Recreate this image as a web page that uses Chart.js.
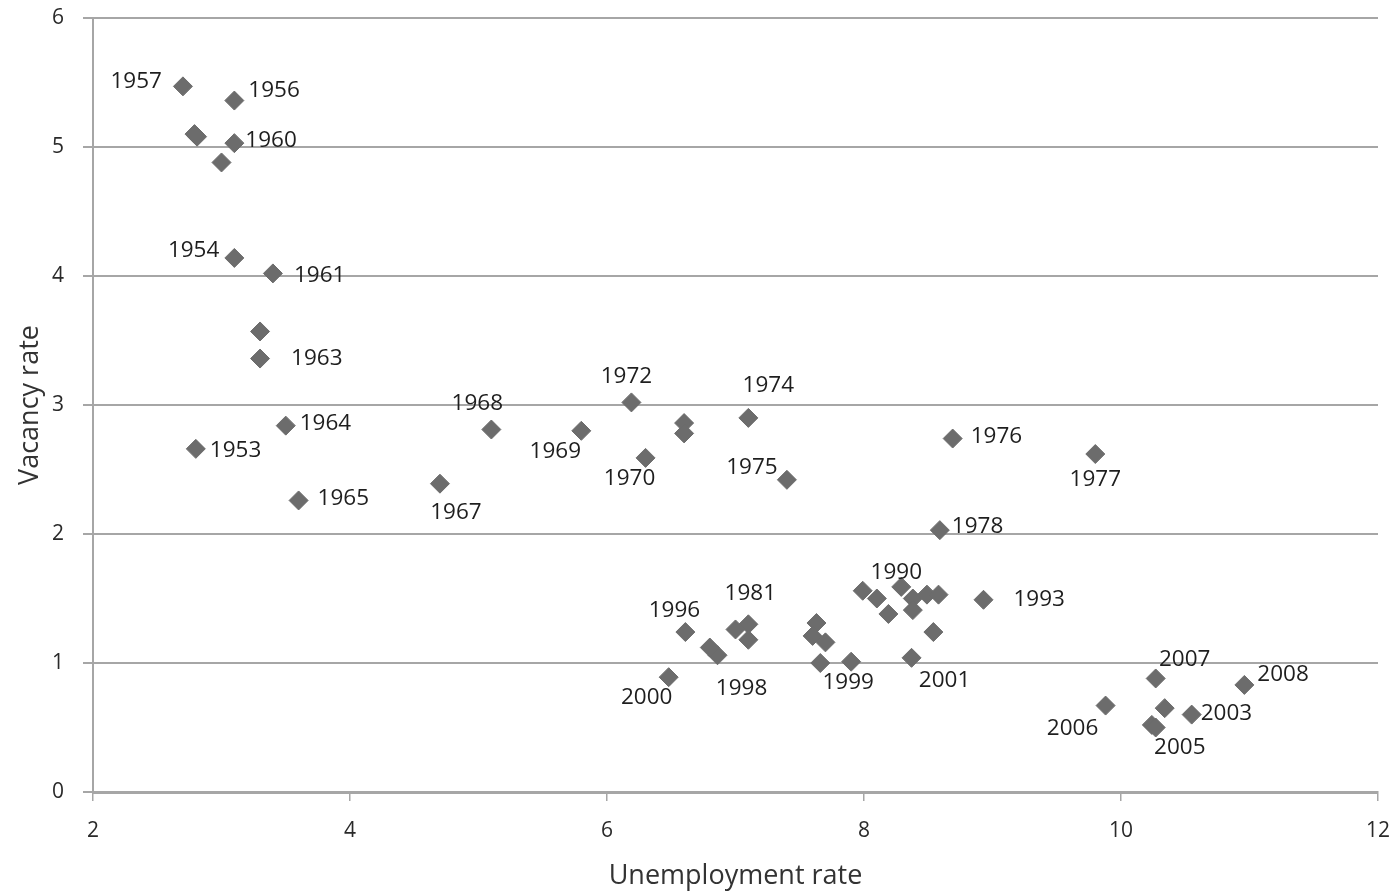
<!DOCTYPE html>
<html lang="en">
<head>
    <meta charset="UTF-8">
    <title>Vacancy vs unemployment</title>
    <script src="https://cdn.jsdelivr.net/npm/chart.js"></script>
    <style>
        html, body { margin: 0; padding: 0; background: #fff; }
        #wrap { width: 1395px; height: 895px; position: relative; }
    </style>
</head>
<body>
    <div id="wrap"><canvas id="scatter"></canvas></div>

    <script>
        // unemployment rate (x), vacancy rate (y), year label ('' = no label)
        const unemployment = [2.80, 3.10, 2.81, 3.10, 2.70, 2.79, 3.00, 3.10, 3.40, 3.30, 3.30, 3.50, 3.60,
            4.70, 5.10, 5.80, 6.30, 6.60, 6.19, 6.60, 7.10, 7.40, 8.69, 9.80, 8.59,
            7.99, 7.10, 8.29, 8.93, 6.61, 6.86, 7.90, 6.48, 8.37,
            10.55, 10.24, 9.88, 10.27, 10.96,
            6.80, 7.00, 7.10, 7.63, 7.60, 7.70, 7.66, 8.10, 8.19, 8.38, 8.38, 8.49, 8.58, 8.54, 10.34, 10.27];
        const vacancy = [2.66, 4.14, 5.08, 5.36, 5.47, 5.10, 4.88, 5.03, 4.02, 3.57, 3.36, 2.84, 2.26,
            2.39, 2.81, 2.80, 2.59, 2.86, 3.02, 2.78, 2.90, 2.42, 2.74, 2.62, 2.03,
            1.56, 1.30, 1.59, 1.49, 1.24, 1.06, 1.01, 0.89, 1.04,
            0.60, 0.52, 0.67, 0.88, 0.83,
            1.12, 1.26, 1.18, 1.31, 1.21, 1.16, 1.00, 1.50, 1.38, 1.50, 1.41, 1.53, 1.53, 1.24, 0.65, 0.50];
        const years = ['1953', '1954', '', '1956', '1957', '', '', '1960', '1961', '', '1963', '1964', '1965',
            '1967', '1968', '1969', '1970', '', '1972', '', '1974', '1975', '1976', '1977', '1978',
            '', '1981', '1990', '1993', '1996', '1998', '1999', '2000', '2001',
            '2003', '2005', '2006', '2007', '2008',
            '', '', '', '', '', '', '', '', '', '', '', '', '', '', '', ''];
        const xTicks = [2, 4, 6, 8, 10, 12];
        const yTicks = [0, 1, 2, 3, 4, 5, 6];

        // label placement relative to the marker: [dx, dy, align]
        const labelPos = {
            '1953': [14, 2, 'left'], '1954': [-15, -7, 'right'], '1956': [14, -10, 'left'],
            '1957': [-21, -5, 'right'], '1960': [11, -3, 'left'], '1961': [21, 2, 'left'],
            '1963': [31, 0, 'left'], '1964': [14, -2, 'left'], '1965': [19, -2, 'left'],
            '1967': [16, 29, 'center'], '1968': [-14, -26, 'center'], '1969': [-26, 21, 'center'],
            '1970': [-16, 21, 'center'], '1972': [-5, -26, 'center'], '1974': [20, -32, 'center'],
            '1975': [-35, -12, 'center'], '1976': [18, -2, 'left'], '1977': [0, 26, 'center'],
            '1978': [12, -4, 'left'], '1981': [2, -31, 'center'], '1990': [-5, -14, 'center'],
            '1993': [30, 0, 'left'], '1996': [-11, -21, 'center'], '1998': [24, 33, 'center'],
            '1999': [-3, 21, 'center'], '2000': [-22, 20, 'center'], '2001': [33, 23, 'center'],
            '2003': [9, -1, 'left'], '2005': [28, 23, 'center'], '2006': [-33, 23, 'center'],
            '2007': [29, -19, 'center'], '2008': [13, -10, 'left']
        };

        const points = unemployment.map((u, i) => ({ x: u, y: vacancy[i] }));

        const yearLabels = {
            id: 'yearLabels',
            afterDatasetsDraw(chart) {
                const ctx = chart.ctx;
                const meta = chart.getDatasetMeta(0);
                ctx.save();
                ctx.font = '22.5px "Open Sans"';
                ctx.fillStyle = '#1e1e1e';
                ctx.textBaseline = 'middle';
                meta.data.forEach((pt, i) => {
                    const yr = years[i];
                    if (!yr) return;
                    const p = labelPos[yr] || [12, 0, 'left'];
                    ctx.textAlign = p[2];
                    ctx.fillText(yr, pt.x + p[0], pt.y + p[1]);
                });
                ctx.restore();
            }
        };

        new Chart(document.getElementById('scatter'), {
            type: 'scatter',
            data: {
                datasets: [{
                    data: points,
                    pointStyle: 'rectRot',
                    pointRadius: 9.5,
                    backgroundColor: '#6c6c6c',
                    borderColor: '#6c6c6c',
                    borderWidth: 1
                }]
            },
            options: {
                responsive: true,
                maintainAspectRatio: false,
                animation: false,
                layout: { padding: { top: 18, right: 17, left: 0, bottom: 0 } },
                plugins: { legend: { display: false }, tooltip: { enabled: false } },
                scales: {
                    x: {
                        type: 'linear', min: 2, max: 12,
                        afterBuildTicks: s => { s.ticks = xTicks.map(v => ({ value: v })); },
                        afterFit: s => { s.height = 103; s.paddingLeft = 0; s.paddingRight = 0; },
                        grid: { drawOnChartArea: false, drawTicks: true, tickLength: 9, color: '#a6a6a6', lineWidth: 1.5 },
                        border: { color: '#a6a6a6', width: 3 },
                        ticks: { color: '#2a2a2a', font: { family: 'Open Sans', size: 21 }, padding: 17 },
                        title: { display: true, text: 'Unemployment rate', color: '#333', font: { family: 'Open Sans', size: 27 }, padding: { top: 0, bottom: 2 } }
                    },
                    y: {
                        type: 'linear', min: 0, max: 6,
                        afterBuildTicks: s => { s.ticks = yTicks.map(v => ({ value: v })); },
                        afterFit: s => { s.width = 93; s.paddingTop = 0; s.paddingBottom = 0; },
                        grid: { color: '#a6a6a6', lineWidth: 2, drawTicks: true, tickLength: 10 },
                        border: { color: '#a6a6a6', width: 2 },
                        ticks: { color: '#2a2a2a', font: { family: 'Open Sans', size: 21 }, padding: 19 },
                        title: { display: true, text: 'Vacancy rate', color: '#333', font: { family: 'Open Sans', size: 27 }, padding: { top: 14, bottom: 0 } }
                    }
                }
            },
            plugins: [yearLabels]
        });
    </script>
</body>
</html>
